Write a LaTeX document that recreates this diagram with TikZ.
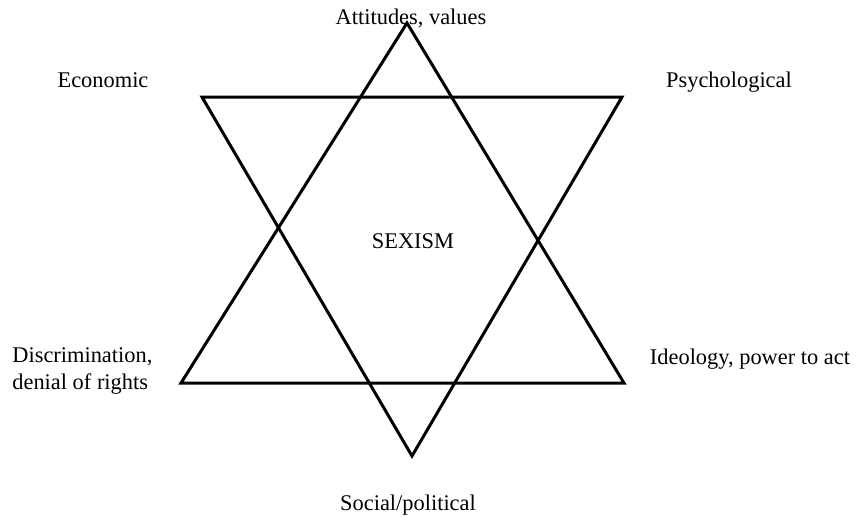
\documentclass[tikz,border=0pt]{standalone}
\usepackage{fontspec}
\setmainfont{Liberation Serif}
\usepackage{tikz}
\usetikzlibrary{positioning,calc}
\tikzset{
  starline/.style={draw=black,line width=1.5pt,line join=miter},
  cornerlabel/.style={font=\fontsize{11.2}{13.5}\selectfont,inner sep=0pt,align=left}
}
\begin{document}
\begin{tikzpicture}[x=0.5pt,y=-0.5pt]
  \useasboundingbox (0,0) rectangle (859,516);
  % Spitzen der beiden Dreiecke
  \coordinate (top) at (407,23);
  \coordinate (lowleft) at (181,383);
  \coordinate (lowright) at (624,383);
  \coordinate (upleft) at (202,97);
  \coordinate (upright) at (622,97);
  \coordinate (bottom) at (412,456);
  \draw[starline] (top)--(lowleft)--(lowright)--cycle;
  \draw[starline] (upleft)--(upright)--(bottom)--cycle;
  % Beschriftungen
  \node[cornerlabel,anchor=base] (attitudes) at (411,24) {Attitudes, values};
  \node[cornerlabel,anchor=base] (economic) at (103,87) {Economic};
  \node[cornerlabel,anchor=base] (psych) at (729,87) {Psychological};
  \node[cornerlabel,anchor=west] (discrim) at (12,371) {Discrimination,\\denial of rights};
  \node[cornerlabel,anchor=base] (ideology) at (750,364) {Ideology, power to act};
  \node[cornerlabel,anchor=base] (sexism) at (413,248) {SEXISM};
  \node[cornerlabel,anchor=base] (social) at (408,510) {Social/political};
\end{tikzpicture}
\end{document}
